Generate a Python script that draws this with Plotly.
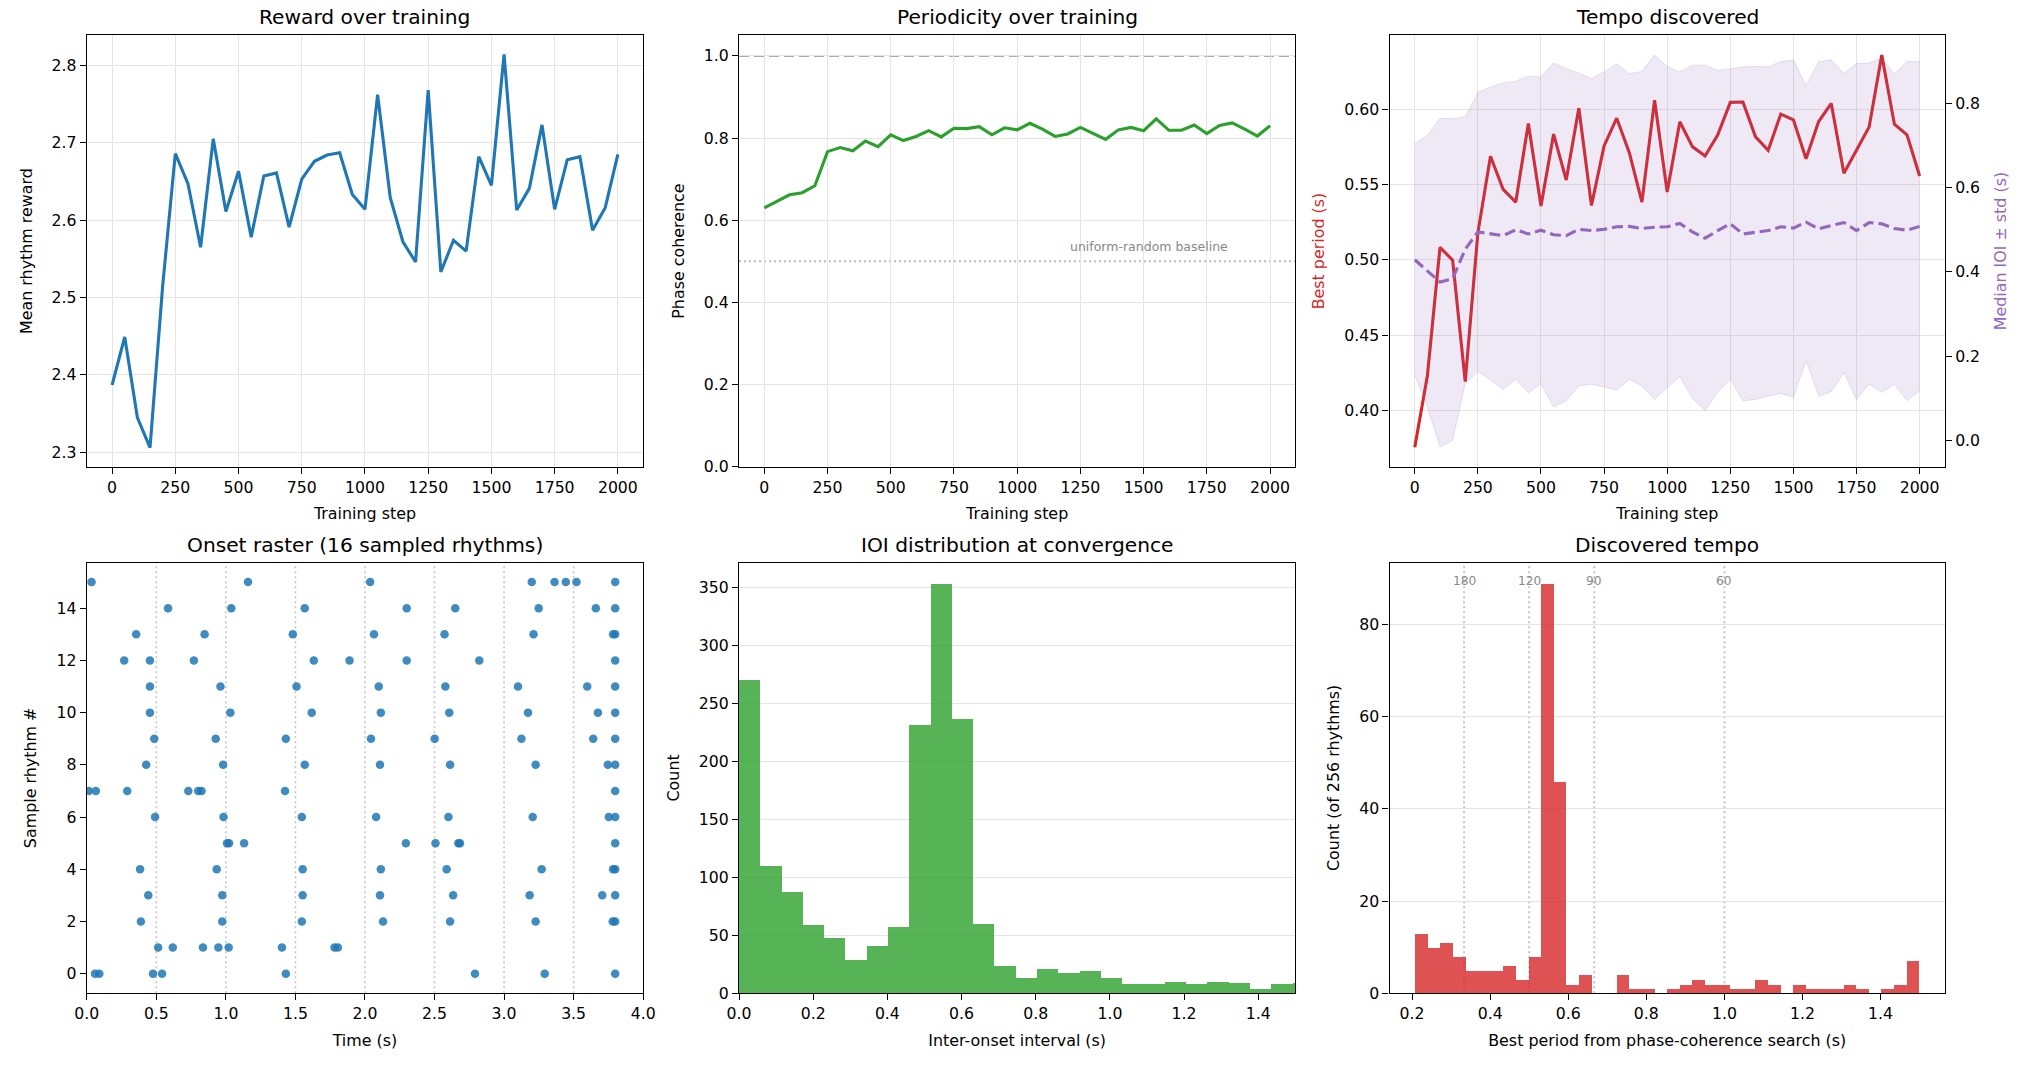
import plotly.graph_objects as go

# ---------------- data ----------------
steps = list(range(0, 2001, 50))

reward = [2.387, 2.449, 2.345, 2.306, 2.515, 2.686, 2.647, 2.565, 2.705, 2.611,
          2.663, 2.578, 2.657, 2.661, 2.591, 2.653, 2.676, 2.684, 2.687, 2.633,
          2.614, 2.762, 2.629, 2.572, 2.546, 2.768, 2.533, 2.574, 2.560, 2.682,
          2.645, 2.814, 2.613, 2.641, 2.723, 2.614, 2.678, 2.682, 2.587, 2.616,
          2.685]

coherence = [0.630, 0.645, 0.662, 0.667, 0.684, 0.767, 0.777, 0.769, 0.793, 0.779,
             0.808, 0.794, 0.804, 0.818, 0.803, 0.824, 0.823, 0.828, 0.808, 0.825,
             0.820, 0.836, 0.822, 0.804, 0.810, 0.826, 0.812, 0.797, 0.820, 0.826,
             0.818, 0.847, 0.819, 0.819, 0.832, 0.811, 0.831, 0.837, 0.822, 0.805,
             0.830]

best_period = [0.3756, 0.4231, 0.5084, 0.4998, 0.4191, 0.5180, 0.5689, 0.5469, 0.5384, 0.5907,
               0.5358, 0.5836, 0.5531, 0.6009, 0.5362, 0.5758, 0.5942, 0.5713, 0.5384, 0.6062,
               0.5451, 0.5918, 0.5753, 0.5691, 0.5829, 0.6047, 0.6049, 0.5818, 0.5729, 0.5969,
               0.5931, 0.5673, 0.5920, 0.6040, 0.5576, 0.5729, 0.5884, 0.6362, 0.5902, 0.5831,
               0.5558]

median_ioi = [0.429, 0.402, 0.376, 0.384, 0.454, 0.495, 0.491, 0.486, 0.500, 0.490,
              0.499, 0.488, 0.486, 0.501, 0.498, 0.501, 0.507, 0.508, 0.503, 0.506,
              0.507, 0.515, 0.495, 0.480, 0.498, 0.514, 0.490, 0.494, 0.498, 0.507,
              0.504, 0.518, 0.502, 0.510, 0.517, 0.498, 0.517, 0.514, 0.503, 0.499,
              0.508]

ioi_upper = [0.703, 0.724, 0.764, 0.763, 0.768, 0.825, 0.838, 0.848, 0.852, 0.864,
             0.862, 0.895, 0.882, 0.871, 0.858, 0.874, 0.893, 0.870, 0.875, 0.914,
             0.887, 0.874, 0.890, 0.890, 0.878, 0.881, 0.886, 0.887, 0.886, 0.899,
             0.902, 0.842, 0.898, 0.903, 0.870, 0.894, 0.895, 0.907, 0.869, 0.899,
             0.898]

ioi_lower = [0.156, 0.080, -0.015, 0.001, 0.136, 0.164, 0.144, 0.122, 0.146, 0.114,
             0.136, 0.080, 0.095, 0.130, 0.134, 0.128, 0.120, 0.146, 0.130, 0.098,
             0.126, 0.152, 0.100, 0.072, 0.115, 0.146, 0.094, 0.098, 0.106, 0.112,
             0.103, 0.189, 0.106, 0.116, 0.162, 0.098, 0.134, 0.115, 0.134, 0.095,
             0.118]

# onset times (s) of the 16 sampled rhythms, index = sample rhythm #
raster_onsets = [
    [0.059, 0.090, 0.476, 0.541, 1.431, 2.791, 3.292, 3.799],
    [0.513, 0.618, 0.835, 0.946, 1.020, 1.403, 1.781, 1.805],
    [0.389, 0.974, 1.546, 2.130, 2.612, 3.227, 3.781, 3.799],
    [0.442, 0.974, 1.552, 2.108, 2.634, 3.184, 3.706, 3.799],
    [0.383, 0.934, 1.552, 2.114, 2.587, 3.270, 3.784, 3.799],
    [1.008, 1.023, 1.131, 2.294, 2.507, 2.671, 2.683, 3.799],
    [0.491, 0.983, 1.546, 2.080, 2.600, 3.206, 3.753, 3.799],
    [0.015, 0.065, 0.291, 0.730, 0.801, 0.825, 1.425, 3.799],
    [0.427, 0.980, 1.567, 2.108, 2.612, 3.227, 3.746, 3.799],
    [0.485, 0.927, 1.431, 2.043, 2.501, 3.125, 3.641, 3.799],
    [0.454, 1.032, 1.617, 2.114, 2.606, 3.172, 3.675, 3.799],
    [0.454, 0.961, 1.508, 2.099, 2.578, 3.100, 3.598, 3.799],
    [0.269, 0.454, 0.770, 1.632, 1.889, 2.300, 2.822, 3.799],
    [0.355, 0.847, 1.481, 2.065, 2.572, 3.212, 3.784, 3.799],
    [0.584, 1.039, 1.567, 2.300, 2.649, 3.249, 3.660, 3.799],
    [0.034, 1.159, 2.037, 3.199, 3.363, 3.444, 3.521, 3.799],
]
beat_lines = [0.5, 1.0, 1.5, 2.0, 2.5, 3.0, 3.5]

ioi_bin_start = 0.0
ioi_bin_width = 0.0574
ioi_counts = [271, 110, 88, 59, 48, 29, 41, 58, 232, 354,
              237, 60, 24, 14, 21, 18, 20, 14, 8, 8,
              10, 8, 10, 9, 4, 8, 9]

tempo_bin_start = 0.207
tempo_bin_width = 0.03227
tempo_counts = [13, 10, 11, 8, 5, 5, 5, 6, 3, 8,
                89, 46, 2, 4, 0, 0, 4, 1, 1, 0,
                1, 2, 3, 2, 2, 1, 1, 3, 2, 0,
                2, 1, 1, 1, 2, 1, 0, 1, 2, 7]
tempo_bpm_marks = [180, 120, 90, 60]

# ---------------- styling ----------------
FONT = "DejaVu Sans"
TICK = 15.7
LABEL = 15.9
TITLE = 20.2
GRID = "#e4e4e4"
BLUE = "#1f77b4"
GREEN = "#2ca02c"
RED = "#d62728"
PURPLE = "#9467bd"
LW = 3.1

W, H = 2030, 1068
cols = [(75.7 / W, 638.7 / W), (735.7 / W, 1298.7 / W), (1394 / W, 1956 / W)]
rows = [(1 - 470.7 / H, 1 - 35.7 / H), (1 - 1001.7 / H, 1 - 567.3 / H)]


def ax(domain, anchor, rng, title, dtick=None, tick0=None, fmt=None, grid=True, standoff=12, **kw):
    d = dict(domain=list(domain), anchor=anchor, range=rng, showline=True, mirror=True,
             linecolor="black", linewidth=1.25, ticks="outside", ticklen=6, tickwidth=1.25,
             tickcolor="black", showgrid=grid, gridcolor=GRID, gridwidth=1.2, zeroline=False,
             tickfont=dict(size=TICK, color="black", family=FONT),
             title=dict(text=title, font=dict(size=LABEL, color="black", family=FONT), standoff=standoff))
    if dtick is not None:
        d["dtick"] = dtick
        d["tick0"] = tick0 if tick0 is not None else 0
        d["tickmode"] = "linear"
    if fmt:
        d["tickformat"] = fmt
    d.update(kw)
    return d


fig = go.Figure()

# Panel 1: reward
fig.add_trace(go.Scatter(x=steps, y=reward, mode="lines", line=dict(color=BLUE, width=LW),
                         xaxis="x", yaxis="y", showlegend=False))

# Panel 2: phase coherence
fig.add_trace(go.Scatter(x=steps, y=coherence, mode="lines", line=dict(color=GREEN, width=LW),
                         xaxis="x2", yaxis="y2", showlegend=False))

# Panel 3: tempo
fig.add_trace(go.Scatter(x=steps, y=best_period, mode="lines", line=dict(color=RED, width=LW),
                         xaxis="x3", yaxis="y3", showlegend=False))
fig.add_trace(go.Scatter(x=steps, y=ioi_upper, mode="lines",
                         line=dict(color="rgba(148,103,189,0.18)", width=1),
                         xaxis="x3", yaxis="y7", showlegend=False))
fig.add_trace(go.Scatter(x=steps, y=ioi_lower, mode="lines", fill="tonexty",
                         fillcolor="rgba(148,103,189,0.15)",
                         line=dict(color="rgba(148,103,189,0.18)", width=1),
                         xaxis="x3", yaxis="y7", showlegend=False))
fig.add_trace(go.Scatter(x=steps, y=median_ioi, mode="lines",
                         line=dict(color=PURPLE, width=LW, dash="11px,5px"),
                         xaxis="x3", yaxis="y7", showlegend=False))

# Panel 4: raster
rx, ry = [], []
for i, row in enumerate(raster_onsets):
    for t in row:
        rx.append(t)
        ry.append(i)
fig.add_trace(go.Scatter(x=rx, y=ry, mode="markers",
                         marker=dict(color=BLUE, size=8.5, opacity=0.85, line=dict(width=0)),
                         xaxis="x4", yaxis="y4", showlegend=False))

# Panel 5: IOI histogram
ioi_centers = [ioi_bin_start + (i + 0.5) * ioi_bin_width for i in range(len(ioi_counts))]
fig.add_trace(go.Bar(x=ioi_centers, y=ioi_counts, width=ioi_bin_width,
                     marker=dict(color="rgba(44,160,44,0.8)", line=dict(width=0)),
                     xaxis="x5", yaxis="y5", showlegend=False))

# Panel 6: tempo histogram
tempo_centers = [tempo_bin_start + (i + 0.5) * tempo_bin_width for i in range(len(tempo_counts))]
fig.add_trace(go.Bar(x=tempo_centers, y=tempo_counts, width=tempo_bin_width,
                     marker=dict(color="rgba(214,39,40,0.8)", line=dict(width=0)),
                     xaxis="x6", yaxis="y6", showlegend=False))

shapes = []
annotations = []

# Panel 2 reference lines
shapes.append(dict(type="line", xref="x2 domain", yref="y2", x0=0, x1=1, y0=1.0, y1=1.0,
                   line=dict(color="#ababab", width=2.0, dash="10px,5px"), layer="below"))
shapes.append(dict(type="line", xref="x2 domain", yref="y2", x0=0, x1=1, y0=0.5, y1=0.5,
                   line=dict(color="#bdbdbd", width=2.0, dash="2px,3px"), layer="below"))
annotations.append(dict(text="uniform-random baseline", x=1200, y=0.512, xref="x2", yref="y2",
                        xanchor="left", yanchor="bottom", showarrow=False,
                        font=dict(size=12.5, color="#888888", family=FONT)))

# Panel 4 beat lines
for b in beat_lines:
    shapes.append(dict(type="line", xref="x4", yref="y4 domain", x0=b, x1=b, y0=0, y1=1,
                       line=dict(color="#c4c4c4", width=1.6, dash="2px,3px"), layer="below"))

# Panel 6 tempo marks
for bpm in tempo_bpm_marks:
    p = 60.0 / bpm
    shapes.append(dict(type="line", xref="x6", yref="y6 domain", x0=p, x1=p, y0=0, y1=1,
                       line=dict(color="#c4c4c4", width=2.0, dash="2px,3px"), layer="below"))
    annotations.append(dict(text=str(bpm), x=p, y=89.5, xref="x6", yref="y6",
                            xanchor="center", yanchor="middle", showarrow=False,
                            font=dict(size=12.2, color="#888888", family=FONT)))

# subplot titles
titles = [["Reward over training", "Periodicity over training", "Tempo discovered"],
          ["Onset raster (16 sampled rhythms)", "IOI distribution at convergence", "Discovered tempo"]]
for r in range(2):
    for c in range(3):
        annotations.append(dict(text=titles[r][c], x=(cols[c][0] + cols[c][1]) / 2, y=rows[r][1],
                                xref="paper", yref="paper", xanchor="center", yanchor="bottom",
                                yshift=4, showarrow=False,
                                font=dict(size=TITLE, color="black", family=FONT)))

top, bot = rows[0], rows[1]
layout = dict(
    width=W, height=H, margin=dict(l=0, r=0, t=0, b=0),
    paper_bgcolor="white", plot_bgcolor="white",
    font=dict(family=FONT, size=TICK, color="black"),
    bargap=0, showlegend=False,
    xaxis=ax(cols[0], "y", [-100, 2100], "Training step", 250),
    yaxis=ax(top, "x", [2.2814, 2.8386], "Mean rhythm reward", 0.1, 2.3, ".1f", standoff=15),
    xaxis2=ax(cols[1], "y2", [-100, 2100], "Training step", 250),
    yaxis2=ax(top, "x2", [0, 1.05], "Phase coherence", 0.2, 0, ".1f", standoff=15),
    xaxis3=ax(cols[2], "y3", [-100, 2100], "Training step", 250),
    yaxis3=ax(top, "x3", [0.3626, 0.6492], "Best period (s)", 0.05, 0.4, ".2f", standoff=15),
    yaxis7=dict(domain=list(top), anchor="x3", overlaying="y3", side="right", range=[-0.0615, 0.9605],
                showline=True, linecolor="black", linewidth=1.25, ticks="outside", ticklen=6,
                tickwidth=1.25, tickcolor="black", showgrid=False, zeroline=False,
                tickmode="linear", tick0=0, dtick=0.2, tickformat=".1f",
                tickfont=dict(size=TICK, color="black", family=FONT),
                title=dict(text="Median IOI ± std (s)", font=dict(size=LABEL, color=PURPLE, family=FONT),
                           standoff=15)),
    xaxis4=ax(cols[0], "y4", [0, 4], "Time (s)", 0.5, 0, ".1f", grid=False),
    yaxis4=ax(bot, "x4", [-0.75, 15.75], "Sample rhythm #", 2, 0, grid=False, standoff=15),
    xaxis5=ax(cols[1], "y5", [0, 1.5], "Inter-onset interval (s)", 0.2, 0, ".1f", grid=False),
    yaxis5=ax(bot, "x5", [0, 372], "Count", 50, 0, standoff=15),
    xaxis6=ax(cols[2], "y6", [0.1423, 1.5647], "Best period from phase-coherence search (s)", 0.2, 0.2, ".1f",
              grid=False),
    yaxis6=ax(bot, "x6", [0, 93.45], "Count (of 256 rhythms)", 20, 0, standoff=15),
    shapes=shapes, annotations=annotations,
)
layout["yaxis3"]["title"]["font"]["color"] = RED
fig.update_layout(**layout)

fig.write_html("out.html")
